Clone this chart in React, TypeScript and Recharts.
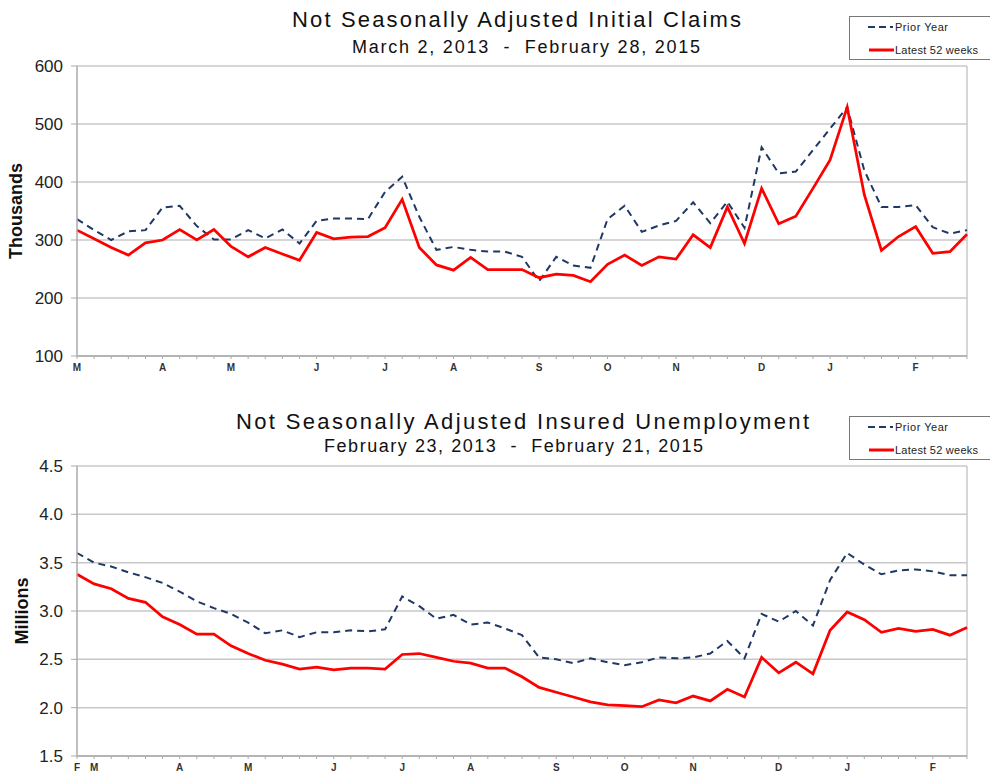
import React from 'react';
import {
  LineChart,
  Line,
  XAxis,
  YAxis,
  CartesianGrid,
  ReferenceLine,
} from 'recharts';

// weekly values, 53 points each (index 0..52)
const claimsLatest = [
  317, 302, 287, 274, 295, 300, 318, 300, 318, 289, 271, 287, 276, 265, 313, 302, 305, 306, 321, 370,
  287, 257, 248, 270, 249, 249, 249, 235, 241, 239, 228, 258, 274, 256, 271, 267, 309, 287, 357, 294,
  389, 328, 341, 389, 438, 529, 378, 282, 306, 323, 277, 280, 310,
];
const claimsPrior = [
  336, 317, 300, 315, 317, 356, 359, 324, 301, 301, 317, 303, 318, 294, 333, 337, 337, 336, 383, 409,
  340, 283, 288, 283, 280, 280, 271, 229, 271, 256, 252, 336, 359, 314, 325, 333, 365, 329, 366, 321,
  460, 415, 418, 455, 492, 529, 420, 357, 357, 360, 322, 311, 317,
];
const insuredLatest = [
  3.38, 3.28, 3.23, 3.13, 3.09, 2.94, 2.86, 2.76, 2.76, 2.64, 2.56, 2.49, 2.45, 2.4, 2.42, 2.39, 2.41,
  2.41, 2.4, 2.55, 2.56, 2.52, 2.48, 2.46, 2.41, 2.41, 2.32, 2.21, 2.16, 2.11, 2.06, 2.03, 2.02, 2.01,
  2.08, 2.05, 2.12, 2.07, 2.19, 2.11, 2.52, 2.36, 2.47, 2.35, 2.8, 2.99, 2.91, 2.78, 2.82, 2.79, 2.81,
  2.75, 2.83,
];
const insuredPrior = [
  3.6, 3.5, 3.46, 3.4, 3.35, 3.29, 3.2, 3.1, 3.03, 2.97, 2.88, 2.77, 2.8, 2.73, 2.78, 2.78, 2.8, 2.79,
  2.81, 3.15, 3.05, 2.92, 2.96, 2.86, 2.88, 2.82, 2.75, 2.52, 2.5, 2.46, 2.51, 2.47, 2.44, 2.47, 2.52,
  2.51, 2.52, 2.56, 2.69, 2.51, 2.97, 2.89, 3.0, 2.85, 3.32, 3.6, 3.48, 3.38, 3.42, 3.43, 3.41, 3.37,
  3.37,
];

// month letter shown under a given week index
const claimsMonths: [number, string][] = [
  [0, 'M'], [5, 'A'], [9, 'M'], [14, 'J'], [18, 'J'], [22, 'A'],
  [27, 'S'], [31, 'O'], [35, 'N'], [40, 'D'], [44, 'J'], [49, 'F'],
];
const insuredMonths: [number, string][] = [
  [0, 'F'], [1, 'M'], [6, 'A'], [10, 'M'], [15, 'J'], [19, 'J'], [23, 'A'],
  [28, 'S'], [32, 'O'], [36, 'N'], [41, 'D'], [45, 'J'], [50, 'F'],
];

const claimsYTicks = [100, 200, 300, 400, 500, 600];
const insuredYTicks = [1.5, 2.0, 2.5, 3.0, 3.5, 4.0, 4.5];

const weekTicks = claimsLatest.map((_, i) => i);
const FONT = '"Liberation Sans", Arial, sans-serif';
const GRID = '#c8c8c8';

function buildRows(latest: number[], prior: number[]) {
  return latest.map((v, i) => ({ i, latest: v, prior: prior[i] }));
}

function Legend({ top }: { top: number }) {
  return (
    <svg width={150} height={45} style={{ position: 'absolute', left: 849, top }}>
      <rect x={0.5} y={0.5} width={160} height={43} fill="#fff" stroke="#777" />
      <line x1={19} y1={11} x2={44} y2={11} stroke="#1f3864" strokeWidth={2} strokeDasharray="7 4" />
      <line x1={20} y1={34} x2={45} y2={34} stroke="#ff0000" strokeWidth={3} />
      <text x={46} y={15} fontSize={11} fill="#222" fontFamily={FONT} textLength={53} lengthAdjust="spacing">
        Prior Year
      </text>
      <text x={46} y={38} fontSize={11} fill="#222" fontFamily={FONT} textLength={83} lengthAdjust="spacing">
        Latest 52 weeks
      </text>
    </svg>
  );
}

function Panel(props: {
  top: number;
  title: string;
  titleX: [number, number];
  subtitle: string;
  subX: [number, number];
  yLabel: string;
  yLabelOffset: number;
  latest: number[];
  prior: number[];
  yTicks: number[];
  months: [number, string][];
  yFormat: (v: number) => string;
}) {
  const rows = buildRows(props.latest, props.prior);
  const monthMap = new Map(props.months);
  const yMin = props.yTicks[0];
  const yMax = props.yTicks[props.yTicks.length - 1];
  return (
    <div style={{ position: 'absolute', left: 0, top: props.top, width: 990, height: 376 }}>
      <div style={{ position: 'absolute', left: 0, top: 0 }}>
        <LineChart width={990} height={376} data={rows} margin={{ top: 66, right: 23, bottom: 0, left: 0 }}>
          <CartesianGrid horizontal vertical={false} stroke={GRID} strokeWidth={1.5} />
          <XAxis
            dataKey="i"
            type="number"
            domain={[0, 52]}
            ticks={weekTicks}
            interval={0}
            height={20}
            tickSize={3}
            tickLine={{ stroke: '#aaa' }}
            axisLine={{ stroke: '#aaa', strokeWidth: 1.5 }}
            tickFormatter={(v: number) => monthMap.get(v) ?? ''}
            tick={{ fontSize: 10, fontWeight: 'bold', fill: '#333', fontFamily: FONT, dy: 3 }}
          />
          <YAxis
            type="number"
            domain={[yMin, yMax]}
            ticks={props.yTicks}
            width={77}
            tickSize={6}
            tickMargin={8}
            tickLine={{ stroke: '#aaa' }}
            axisLine={{ stroke: '#aaa', strokeWidth: 1.5 }}
            tickFormatter={props.yFormat}
            tick={{ fontSize: 17, fill: '#222', fontFamily: FONT }}
            label={{
              value: props.yLabel,
              angle: -90,
              position: 'insideLeft',
              offset: props.yLabelOffset,
              style: { fontSize: 18, fontWeight: 'bold', fill: '#111', fontFamily: FONT, textAnchor: 'middle' },
            }}
          />
          <ReferenceLine x={52} stroke={GRID} strokeWidth={1.5} />
          <Line
            type="linear"
            dataKey="prior"
            stroke="#1f3864"
            strokeWidth={2}
            strokeDasharray="7 5"
            dot={false}
            isAnimationActive={false}
          />
          <Line
            type="linear"
            dataKey="latest"
            stroke="#ff0000"
            strokeWidth={2.75}
            dot={false}
            isAnimationActive={false}
          />
        </LineChart>
      </div>
      <svg width={990} height={62} style={{ position: 'absolute', left: 0, top: 0 }}>
        <text
          x={props.titleX[0]}
          y={props.top === 0 ? 27 : 29}
          fontSize={22}
          fill="#111"
          fontFamily={FONT}
          textLength={props.titleX[1] - props.titleX[0]}
          lengthAdjust="spacing"
        >
          {props.title}
        </text>
        <text
          x={props.subX[0]}
          y={props.top === 0 ? 53 : 52}
          fontSize={18}
          fill="#111"
          fontFamily={FONT}
          textLength={props.subX[1] - props.subX[0]}
          lengthAdjust="spacing"
          style={{ whiteSpace: 'pre' }}
        >
          {props.subtitle}
        </text>
      </svg>
      <Legend top={16} />
    </div>
  );
}

export default function App() {
  return (
    <div
      style={{
        position: 'absolute',
        left: 0,
        top: 0,
        width: 990,
        height: 776,
        background: '#fff',
        overflow: 'hidden',
      }}
    >
      <Panel
        top={0}
        title="Not Seasonally Adjusted Initial Claims"
        titleX={[292, 741]}
        subtitle={'March 2, 2013  -  February 28, 2015'}
        subX={[352, 700]}
        yLabel="Thousands"
        yLabelOffset={16}
        latest={claimsLatest}
        prior={claimsPrior}
        yTicks={claimsYTicks}
        months={claimsMonths}
        yFormat={(v) => String(v)}
      />
      <Panel
        top={400}
        title="Not Seasonally Adjusted Insured Unemployment"
        titleX={[236, 809]}
        subtitle={'February 23, 2013  -  February 21, 2015'}
        subX={[324, 703]}
        yLabel="Millions"
        yLabelOffset={22}
        latest={insuredLatest}
        prior={insuredPrior}
        yTicks={insuredYTicks}
        months={insuredMonths}
        yFormat={(v) => v.toFixed(1)}
      />
    </div>
  );
}
